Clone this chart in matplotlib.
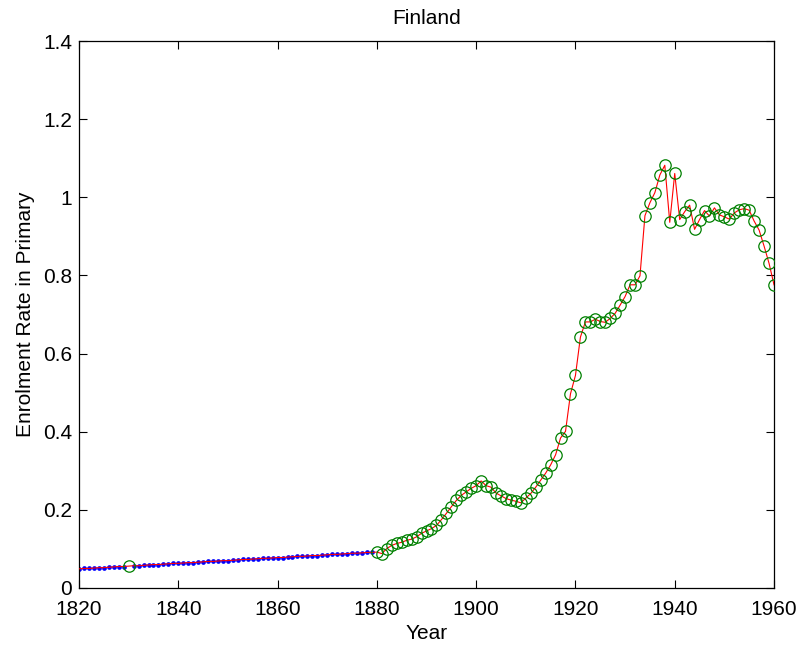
import matplotlib

matplotlib.use('Agg')
import matplotlib.pyplot as plt

matplotlib.rcParams['font.family'] = ['Liberation Sans', 'DejaVu Sans']

# =====================================================================
# data
# =====================================================================
# yearly interpolated points (blue dots)
interp_years = [y for y in range(1820, 1880) if y != 1830]
interp_rate = [0.049, 0.050, 0.050, 0.051, 0.052, 0.052, 0.053, 0.054, 0.055, 0.055,
               0.057, 0.057, 0.058, 0.059, 0.060, 0.060, 0.061, 0.062, 0.063,
               0.063, 0.064, 0.065, 0.065, 0.066, 0.067, 0.068, 0.068, 0.069, 0.070,
               0.070, 0.071, 0.072, 0.073, 0.073, 0.074, 0.075, 0.076, 0.076, 0.077,
               0.078, 0.078, 0.079, 0.080, 0.081, 0.081, 0.082, 0.083, 0.083, 0.084,
               0.085, 0.086, 0.086, 0.087, 0.088, 0.089, 0.089, 0.090, 0.091, 0.091]

# observed points (green circles)
obs_years = [1830] + list(range(1880, 1961))
obs_rate = [0.056,
            0.092, 0.088, 0.101, 0.109, 0.114, 0.117, 0.122, 0.125, 0.131, 0.140,
            0.146, 0.152, 0.160, 0.175, 0.191, 0.208, 0.224, 0.237, 0.246, 0.255,
            0.262, 0.274, 0.262, 0.258, 0.243, 0.236, 0.229, 0.225, 0.222, 0.218,
            0.230, 0.242, 0.258, 0.276, 0.294, 0.315, 0.341, 0.384, 0.401, 0.497,
            0.544, 0.642, 0.681, 0.681, 0.688, 0.682, 0.680, 0.690, 0.703, 0.724,
            0.746, 0.776, 0.776, 0.799, 0.953, 0.986, 1.012, 1.057, 1.082, 0.936,
            1.061, 0.943, 0.963, 0.980, 0.918, 0.943, 0.966, 0.952, 0.973, 0.955,
            0.950, 0.944, 0.960, 0.968, 0.971, 0.967, 0.939, 0.916, 0.875, 0.831,
            0.776]

x_ticks = list(range(1820, 1961, 20))
y_ticks = [0, 0.2, 0.4, 0.6, 0.8, 1.0, 1.2, 1.4]
y_labels = ['0', '0.2', '0.4', '0.6', '0.8', '1', '1.2', '1.4']

# full series for the red line
line_pts = sorted(zip(interp_years + obs_years, interp_rate + obs_rate))
line_x = [p[0] for p in line_pts]
line_y = [p[1] for p in line_pts]

# =====================================================================

FS = 15

fig = plt.figure(figsize=(8.04, 6.49), dpi=100)
ax = fig.add_axes([0.0983, 0.094, 0.8644, 0.8428])

ax.plot(interp_years, interp_rate, 'o', color='#0000ff', markersize=3.4, markeredgewidth=0, zorder=2)
ax.plot(line_x, line_y, '-', color='#ff0000', linewidth=0.8, zorder=3)
ax.plot(obs_years, obs_rate, 'o', markerfacecolor='none', markeredgecolor='#008000',
        markersize=8.2, markeredgewidth=0.9, zorder=4)

ax.set_xlim(1820, 1960)
ax.set_ylim(0, 1.4)
ax.set_xticks(x_ticks)
ax.set_yticks(y_ticks)
ax.set_yticklabels(y_labels)
ax.tick_params(direction='in', top=True, right=True, length=6, width=0.8, labelsize=FS)
ax.tick_params(axis='x', pad=9)
ax.tick_params(axis='y', pad=5)
for s in ax.spines.values():
    s.set_linewidth(0.9)

ax.set_title('Finland', fontsize=FS, pad=12)
ax.set_xlabel('Year', fontsize=FS, labelpad=3)
ax.set_ylabel('Enrolment Rate in Primary', fontsize=FS, labelpad=6)

fig.savefig('out.png', dpi=100)
